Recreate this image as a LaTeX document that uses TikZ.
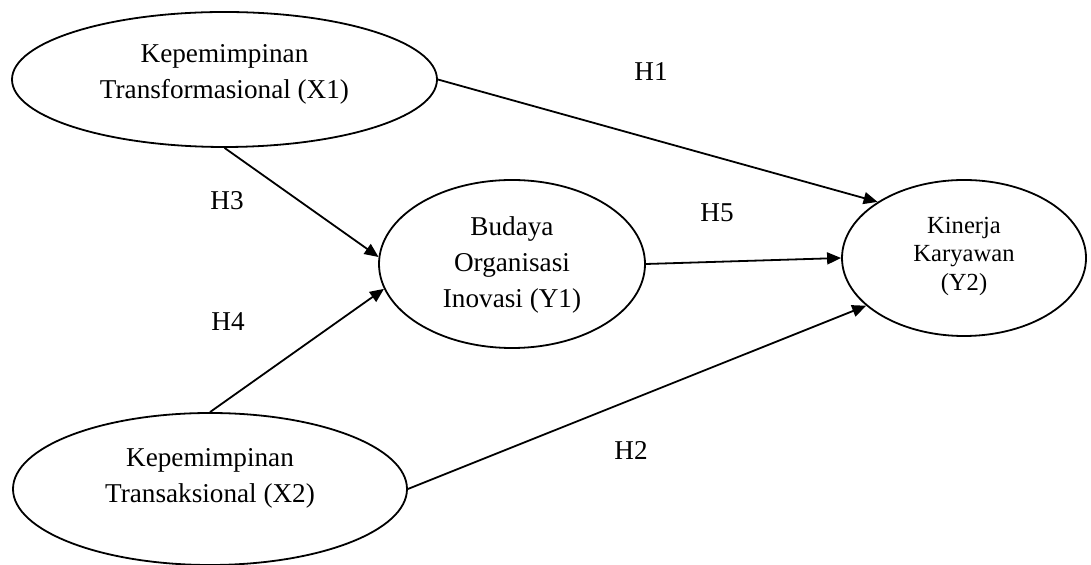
\documentclass[tikz,border=0pt]{standalone}
\usepackage{fontspec}
\setmainfont{Liberation Serif}
\usetikzlibrary{arrows.meta,shapes.geometric}

\tikzset{
  var/.style={ellipse,draw,inner sep=0pt,font=\fontsize{13.6}{18}\selectfont},
  hyp/.style={inner sep=0pt,font=\fontsize{13.6}{18}\selectfont}
}

\begin{document}
\begin{tikzpicture}[x=0.5pt,y=-0.5pt,->,>={Triangle[length=7pt,width=6pt]},line width=0.9pt]
        \useasboundingbox (0,0) rectangle (1091,565);

        \node[var,minimum width=212.5pt,minimum height=67.5pt] (X1) at (224.5,79.5)
             {\begin{tabular}{@{}c@{}}Kepemimpinan\\Transformasional (X1)\\[5.7pt]\end{tabular}};
        \node[var,minimum width=197pt,minimum height=76pt] (X2) at (210,489)
             {\begin{tabular}{@{}c@{}}Kepemimpinan\\Transaksional (X2)\\[11.5pt]\end{tabular}};
        \node[var,minimum width=133pt,minimum height=84pt] (Y1) at (512,264)
             {\begin{tabular}{@{}c@{}}Budaya\\Organisasi\\Inovasi (Y1)\end{tabular}};
        \node[var,minimum width=122pt,minimum height=78pt,font=\fontsize{12.3}{14.25}\selectfont] (Y2) at (964,258)
             {\begin{tabular}{@{}c@{}}Kinerja\\Karyawan\\(Y2)\\[2pt]\end{tabular}};

        \node[hyp] (H1) at (651,72) {H1};
        \node[hyp] (H2) at (631,450) {H2};
        \node[hyp] (H3) at (227,201) {H3};
        \node[hyp] (H4) at (228,322) {H4};
        \node[hyp] (H5) at (717,213) {H5};

        \path (X1.east)  edge (Y2.147) % H1
              (X1.south) edge (Y1.177) % H3
              (X2.east)  edge (Y2.206) % H2
              (X2.north) edge (Y1.191) % H4
              (Y1.east)  edge (Y2.west) % H5
              ;
\end{tikzpicture}
\end{document}
